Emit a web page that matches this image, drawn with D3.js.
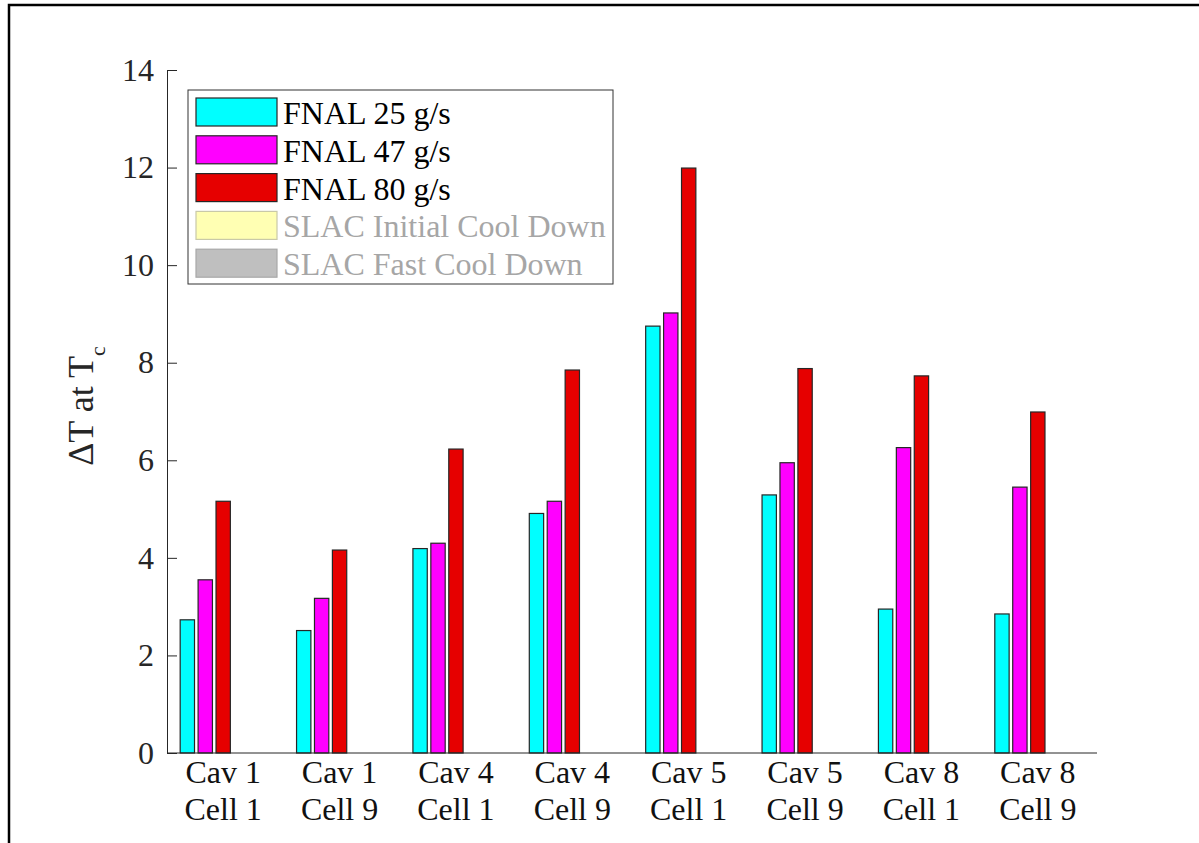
<!DOCTYPE html>
<meta charset="utf-8">
<style>
  body { margin: 0; background: #fff; }
  text { font-family: "Liberation Serif", "Times New Roman", serif; }
</style>

<script src="https://d3js.org/d3.v7.min.js"></script>

<div id="my_dataviz"></div>

<script>

// data
var categories = ["Cav 1|Cell 1", "Cav 1|Cell 9", "Cav 4|Cell 1", "Cav 4|Cell 9",
                  "Cav 5|Cell 1", "Cav 5|Cell 9", "Cav 8|Cell 1", "Cav 8|Cell 9"];
var seriesNames = ["FNAL 25 g/s", "FNAL 47 g/s", "FNAL 80 g/s",
                   "SLAC Initial Cool Down", "SLAC Fast Cool Down"];
var fnal25 = [2.73, 2.51, 4.19, 4.91, 8.75, 5.29, 2.95, 2.85];
var fnal47 = [3.55, 3.17, 4.30, 5.16, 9.02, 5.95, 6.26, 5.45];
var fnal80 = [5.16, 4.16, 6.23, 7.85, 11.99, 7.88, 7.73, 6.99];
var slacInitial = [null, null, null, null, null, null, null, null];
var slacFast = [null, null, null, null, null, null, null, null];
var yTicks = [0, 2, 4, 6, 8, 10, 12, 14];

var seriesValues = [fnal25, fnal47, fnal80, slacInitial, slacFast];
var fills = ["#00ffff", "#ff00ff", "#e60000", "#ffffb3", "#bfbfbf"];
var edges = ["#262626", "#262626", "#262626", "#c9c9a8", "#a8a8a8"];
var legendText = ["#000", "#000", "#000", "#a6a6a6", "#a6a6a6"];

//margin
var margin = {top: 70, right: 102, bottom: 90, left: 167},
    width = 1199 - margin.left - margin.right,
    height = 843 - margin.top - margin.bottom;

var root = d3.select("#my_dataviz")
  .append("svg")
    .attr("width", 1199)
    .attr("height", 843);

// outer frame
root.append("path")
  .attr("d", "M9,843 V5 H1199")
  .attr("fill", "none")
  .attr("stroke", "#000")
  .attr("stroke-width", 2.5);

var svg = root.append("g")
  .attr("transform", "translate(" + margin.left + "," + margin.top + ")");

// scales
var x0 = d3.scaleBand()
  .domain(categories)
  .range([-2, width - 1])
  .paddingInner(0.23)
  .paddingOuter(0.115);

var x1 = d3.scaleBand()
  .domain(d3.range(seriesNames.length))
  .range([0, x0.bandwidth()])
  .paddingInner(0.2)
  .paddingOuter(0.1);

var y = d3.scaleLinear()
  .domain([0, 14])
  .range([height, 0]);

// bars
var rows = categories.map(function(c, i) {
  return { cat: c, vals: seriesValues.map(function(s, j) { return { k: j, v: s[i] }; }) };
});

var groups = svg.selectAll(".grp")
  .data(rows)
  .enter().append("g")
    .attr("class", "grp")
    .attr("transform", function(d) { return "translate(" + x0(d.cat) + ",0)"; });

groups.selectAll("rect")
  .data(function(d) { return d.vals.filter(function(e) { return e.v != null; }); })
  .enter().append("rect")
    .attr("x", function(d) { return x1(d.k); })
    .attr("width", x1.bandwidth())
    .attr("y", function(d) { return y(d.v); })
    .attr("height", function(d) { return height - y(d.v); })
    .attr("fill", function(d) { return fills[d.k]; })
    .attr("stroke", function(d) { return edges[d.k]; })
    .attr("stroke-width", 1.2);

// y axis
var yAxis = svg.append("g")
  .call(d3.axisLeft(y).tickValues(yTicks).tickSize(-10).tickPadding(13).tickSizeOuter(0));
yAxis.select(".domain").attr("stroke", "#262626");
yAxis.selectAll(".tick line").attr("stroke", "#262626");
yAxis.selectAll("text")
  .attr("font-size", 32)
  .attr("font-family", "Liberation Serif")
  .attr("fill", "#262626");

// x axis
svg.append("line")
  .attr("x1", 0).attr("x2", width)
  .attr("y1", height).attr("y2", height)
  .attr("stroke", "#262626");

var xl = svg.selectAll(".xlab")
  .data(categories)
  .enter().append("text")
    .attr("class", "xlab")
    .attr("text-anchor", "middle")
    .attr("font-size", 32)
    .attr("fill", "#111")
    .attr("x", function(d) { return x0(d) + x0.bandwidth() / 2; });
xl.append("tspan")
  .attr("x", function(d) { return x0(d) + x0.bandwidth() / 2; })
  .attr("y", height + 30)
  .text(function(d) { return d.split("|")[0]; });
xl.append("tspan")
  .attr("x", function(d) { return x0(d) + x0.bandwidth() / 2; })
  .attr("y", height + 67)
  .text(function(d) { return d.split("|")[1]; });

// y label
var yl = root.append("text")
  .attr("transform", "translate(93,406) rotate(-90)")
  .attr("text-anchor", "middle")
  .attr("font-size", 36)
  .attr("fill", "#262626");
yl.append("tspan").text("\u0394T at T");
yl.append("tspan").attr("font-size", 22).attr("dy", 12).text("c");

// legend
var lg = root.append("g").attr("transform", "translate(188,90)");
lg.append("rect")
  .attr("width", 425).attr("height", 194)
  .attr("fill", "#fff")
  .attr("stroke", "#333")
  .attr("stroke-width", 1);

var item = lg.selectAll(".item")
  .data(seriesNames)
  .enter().append("g")
    .attr("class", "item")
    .attr("transform", function(d, i) { return "translate(8," + (8 + i * 37.8) + ")"; });
item.append("rect")
  .attr("width", 81).attr("height", 28)
  .attr("fill", function(d, i) { return fills[i]; })
  .attr("stroke", function(d, i) { return edges[i]; })
  .attr("stroke-width", 1.2);
item.append("text")
  .attr("x", 87)
  .attr("y", 26)
  .attr("font-size", 32)
  .attr("fill", function(d, i) { return legendText[i]; })
  .text(function(d) { return d; });

</script>
